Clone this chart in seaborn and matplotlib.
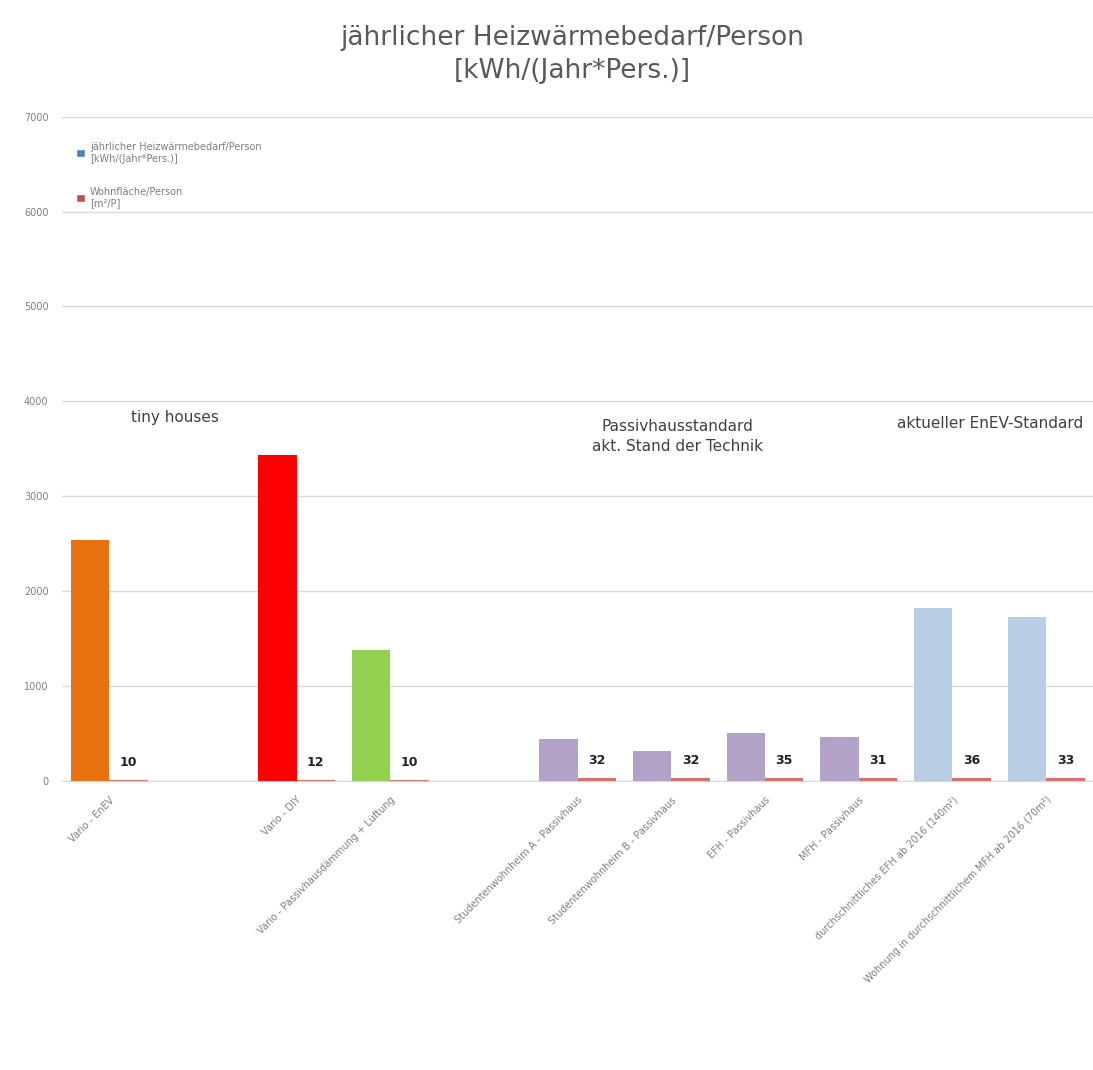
import matplotlib
matplotlib.use("Agg")
import matplotlib.pyplot as plt
import seaborn as sns
import pandas as pd
import numpy as np
from matplotlib.patches import Patch

categories = [
    "Vario - EnEV",
    " ",
    "Vario - DIY",
    "Vario - Passivhausdämmung + Lüftung",
    "  ",
    "Studentenwohnheim A - Passivhaus",
    "Studentenwohnheim B - Passivhaus",
    "EFH - Passivhaus",
    "MFH - Passivhaus",
    "durchschnittliches EFH ab 2016 (140m²)",
    "Wohnung in durchschnittlichem MFH ab 2016 (70m²)",
]
heat = [2540, np.nan, 3440, 1380, np.nan, 445, 318, 505, 465, 1825, 1730]
area = [10, np.nan, 12, 10, np.nan, 32, 32, 35, 31, 36, 33]
series_names = ["jährlicher Heizwärmebedarf/Person\n[kWh/(Jahr*Pers.)]",
                "Wohnfläche/Person\n[m²/P]"]
bar_colors = ["#E8700F", None, "#FF0000", "#92D050", None,
              "#B3A2C7", "#B3A2C7", "#B3A2C7", "#B3A2C7", "#B9CDE5", "#B9CDE5"]
area_color = "#D9534F"
legend_colors = ["#4F81BD", "#C0504D"]
y_ticks = [0, 1000, 2000, 3000, 4000, 5000, 6000, 7000]

df = pd.DataFrame({
    "cat": categories * 2,
    "val": heat + area,
    "series": [series_names[0]] * len(categories) + [series_names[1]] * len(categories),
})

sns.set_style("white")
plt.rcParams['font.family'] = ['DejaVu Sans']

fig = plt.figure(figsize=(10.93, 10.70), dpi=100)
ax = fig.add_axes([0.057, 0.27, 0.943, 0.621])

sns.barplot(data=df, x="cat", y="val", hue="series", order=categories,
            hue_order=series_names, dodge=True, width=0.82, ax=ax,
            palette=legend_colors, legend=False, linewidth=0)

for patch in ax.containers[0]:
    idx = int(round(patch.get_x() + patch.get_width() / 2))
    c = bar_colors[idx]
    if c is not None:
        patch.set_facecolor(c)
for patch in ax.containers[1]:
    patch.set_facecolor(area_color)
    patch.set_alpha(0.85)
    idx = int(round(patch.get_x() + patch.get_width() / 2))
    v = area[idx]
    ax.annotate(f"{int(v)}", (patch.get_x() + patch.get_width() / 2, v),
                xytext=(0, 8), textcoords="offset points", ha="center",
                va="bottom", fontsize=9, fontweight="bold", color="#222222")

ax.set_ylim(0, 7000)
ax.set_yticks(y_ticks)
ax.set_yticklabels([str(t) for t in y_ticks], fontsize=7, color="#7F7F7F")
ax.yaxis.grid(True, color="#D9D9D9", linewidth=1)
ax.set_axisbelow(True)
for s in ax.spines.values():
    s.set_visible(False)
ax.spines["bottom"].set_visible(True)
ax.spines["bottom"].set_color("#D9D9D9")
ax.tick_params(axis="both", length=0, pad=10)
ax.set_xlabel("")
ax.set_ylabel("")
ax.set_xticks(range(len(categories)))
ax.set_xticklabels(categories, rotation=45, ha="right", rotation_mode="anchor",
                   fontsize=7, color="#7F7F7F")
ax.set_xlim(-0.5, len(categories) - 0.5)

# legend
handles = [Patch(facecolor=legend_colors[0]), Patch(facecolor=legend_colors[1])]
leg = ax.legend(handles, series_names, loc="upper left", bbox_to_anchor=(0.005, 0.975),
                frameon=False, fontsize=7, handlelength=0.9, handleheight=0.9,
                labelspacing=2.4, handletextpad=0.5)
for t in leg.get_texts():
    t.set_color("#7F7F7F")

# group annotations
ax.text(0.7, 3830, "tiny houses", ha="center", va="center", fontsize=11, color="#404040")
ax.text(6.07, 3630, "Passivhausstandard\nakt. Stand der Technik", ha="center",
        va="center", fontsize=11, color="#404040", linespacing=1.4)
ax.text(9.4, 3770, "aktueller EnEV-Standard", ha="center", va="center",
        fontsize=11, color="#404040")

fig.suptitle("jährlicher Heizwärmebedarf/Person\n[kWh/(Jahr*Pers.)]", x=0.524, y=0.977,
             fontsize=19, color="#595959", va="top", linespacing=1.35)

fig.savefig("out.png", dpi=100)
